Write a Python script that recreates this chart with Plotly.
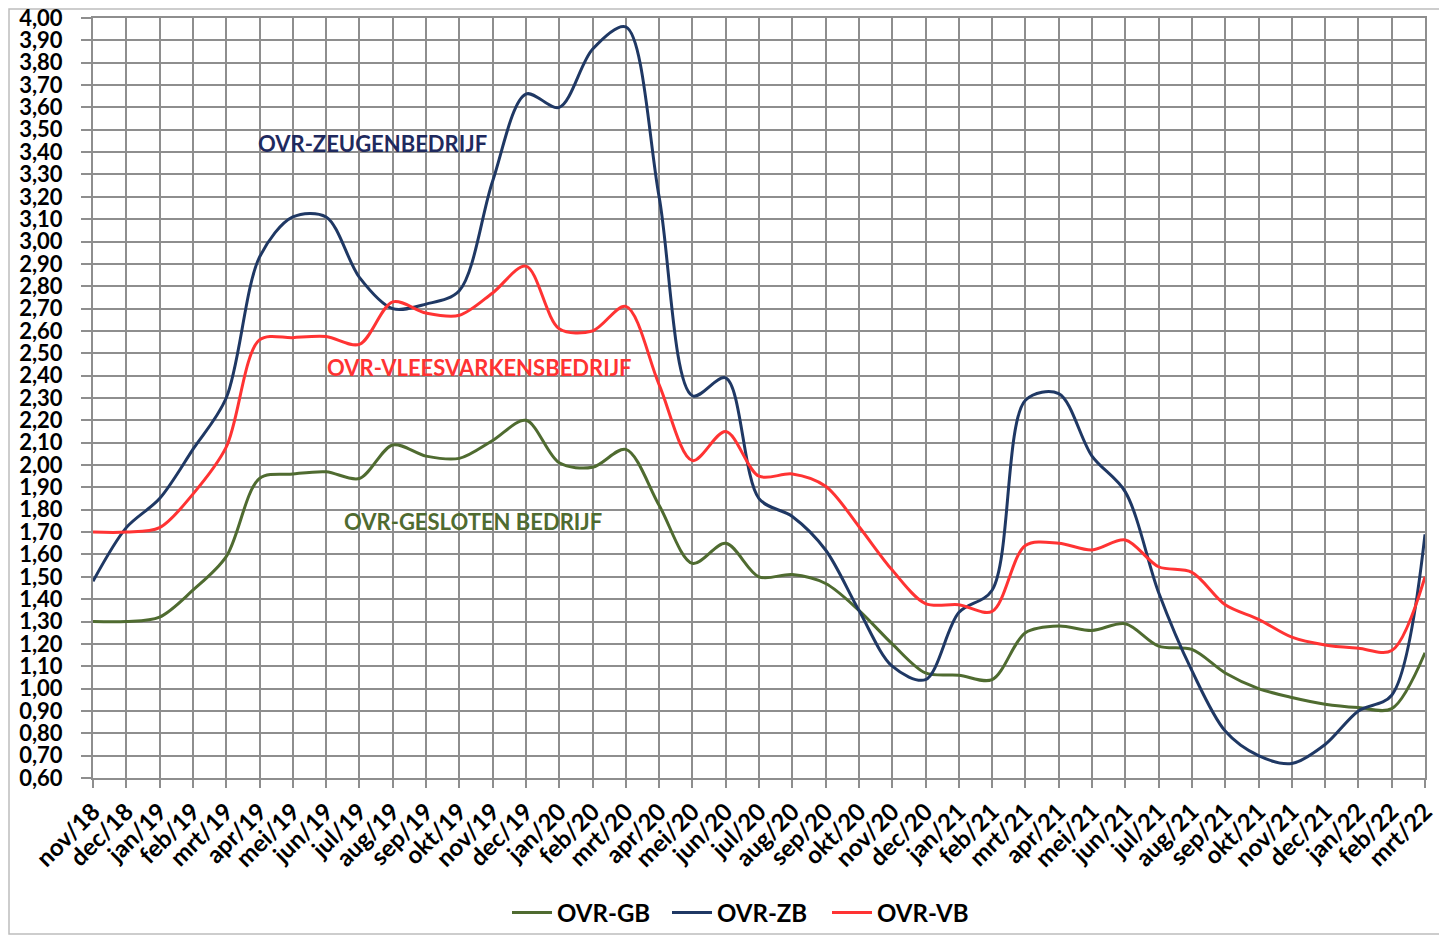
import plotly.graph_objects as go

months = ["nov/18", "dec/18", "jan/19", "feb/19", "mrt/19", "apr/19", "mei/19", "jun/19",
          "jul/19", "aug/19", "sep/19", "okt/19", "nov/19", "dec/19", "jan/20", "feb/20",
          "mrt/20", "apr/20", "mei/20", "jun/20", "jul/20", "aug/20", "sep/20", "okt/20",
          "nov/20", "dec/20", "jan/21", "feb/21", "mrt/21", "apr/21", "mei/21", "jun/21",
          "jul/21", "aug/21", "sep/21", "okt/21", "nov/21", "dec/21", "jan/22", "feb/22",
          "mrt/22"]

ovr_gb = [1.30, 1.30, 1.32, 1.44, 1.59, 1.94, 1.96, 1.97, 1.94, 2.09, 2.04, 2.03, 2.11, 2.20,
          2.01, 1.99, 2.07, 1.82, 1.56, 1.65, 1.50, 1.51, 1.47, 1.35, 1.20, 1.07, 1.06, 1.04,
          1.25, 1.28, 1.26, 1.29, 1.19, 1.175, 1.07, 1.00, 0.96, 0.93, 0.915, 0.91, 1.16]

ovr_zb = [1.48, 1.72, 1.85, 2.07, 2.30, 2.93, 3.11, 3.11, 2.84, 2.70, 2.72, 2.78, 3.27, 3.66,
          3.60, 3.86, 3.96, 3.20, 2.31, 2.39, 1.85, 1.77, 1.62, 1.35, 1.10, 1.04, 1.34, 1.44,
          2.29, 2.32, 2.04, 1.88, 1.43, 1.08, 0.81, 0.70, 0.665, 0.75, 0.90, 0.97, 1.69]

ovr_vb = [1.70, 1.70, 1.72, 1.87, 2.08, 2.56, 2.57, 2.575, 2.54, 2.73, 2.68, 2.67, 2.77, 2.89,
          2.61, 2.60, 2.71, 2.36, 2.02, 2.15, 1.95, 1.96, 1.905, 1.725, 1.53, 1.38, 1.375, 1.345,
          1.64, 1.65, 1.62, 1.665, 1.545, 1.52, 1.375, 1.31, 1.23, 1.195, 1.18, 1.17, 1.50]

y_tick_values = [0.60, 0.70, 0.80, 0.90, 1.00, 1.10, 1.20, 1.30, 1.40, 1.50, 1.60, 1.70,
                 1.80, 1.90, 2.00, 2.10, 2.20, 2.30, 2.40, 2.50, 2.60, 2.70, 2.80, 2.90,
                 3.00, 3.10, 3.20, 3.30, 3.40, 3.50, 3.60, 3.70, 3.80, 3.90, 4.00]
y_tick_labels = [("%.2f" % v).replace(".", ",") for v in y_tick_values]

series_names = ["OVR-GB", "OVR-ZB", "OVR-VB"]
series_colors = ["#4F6B30", "#1F3864", "#FF3333"]

labels = ["OVR-ZEUGENBEDRIJF", "OVR-VLEESVARKENSBEDRIJF", "OVR-GESLOTEN BEDRIJF"]
label_colors = ["#1F2A5E", "#FF3333", "#4F6B30"]

FONT = "Lato, Calibri, Carlito, sans-serif"
GRID = "#8E8E8E"

fig = go.Figure()
for name, vals, col in zip(series_names, [ovr_gb, ovr_zb, ovr_vb], series_colors):
    fig.add_trace(go.Scatter(
        x=months, y=vals, mode="lines", name=name,
        line=dict(color=col, width=3, shape="spline", smoothing=0.9),
    ))

# page body has an 8px offset; layout is specified in screen pixels and shifted
OFF = 8
W, H = 1447, 936
L, T = 93 - OFF, 18 - OFF
pw, ph = 1332, 760
R = W - L - pw
B = H - T - ph

def px_x(x):
    return (x - OFF - L) / pw

def px_y(y):
    return (H - B - (y - OFF)) / ph

ann_pos = [(372, 143), (479, 367), (473, 521)]
annotations = []
for txt, col, (ax, ay) in zip(labels, label_colors, ann_pos):
    annotations.append(dict(
        text=txt, x=px_x(ax), y=px_y(ay), xref="paper", yref="paper",
        xanchor="center", yanchor="middle", showarrow=False,
        font=dict(family=FONT, size=22, color=col, weight="bold"),
    ))

fig.update_layout(
    width=W, height=H,
    margin=dict(l=L, r=R, t=T, b=B, pad=0, autoexpand=False),
    paper_bgcolor="white", plot_bgcolor="white",
    font=dict(family=FONT, color="black"),
    showlegend=True,
    legend=dict(
        orientation="h", x=px_x(747), xanchor="center", y=px_y(913), yanchor="middle",
        font=dict(family=FONT, size=24, color="black", weight="bold"),
        itemwidth=40, entrywidth=105, entrywidthmode="pixels",
        tracegroupgap=0, bgcolor="rgba(0,0,0,0)",
    ),
    annotations=annotations,
    shapes=[dict(
        type="rect", xref="paper", yref="paper",
        x0=px_x(9), x1=px_x(1442), y0=px_y(934), y1=px_y(9),
        line=dict(color="#BDBDBD", width=1.5), fillcolor="rgba(0,0,0,0)", layer="below",
    )],
)

fig.update_xaxes(
    type="category", range=[0, len(months) - 1], automargin=False,
    showgrid=True, gridcolor=GRID, gridwidth=2,
    showline=True, linecolor=GRID, linewidth=2, mirror=True,
    ticks="outside", ticklen=8, tickwidth=2, tickcolor=GRID,
    tickangle=-45,
    tickfont=dict(family=FONT, size=24, color="black", weight="bold"),
    zeroline=False,
)
fig.update_yaxes(
    range=[0.5999, 4.0001], tickmode="array", tickvals=y_tick_values, ticktext=y_tick_labels,
    automargin=False, ticklabeloverflow="allow",
    showgrid=True, gridcolor=GRID, gridwidth=2,
    showline=True, linecolor=GRID, linewidth=2, mirror=True,
    ticks="outside", ticklen=10, tickwidth=2, tickcolor=GRID,
    ticklabelstandoff=14,
    tickfont=dict(family=FONT, size=22, color="black", weight="bold"),
    zeroline=False,
)

fig.write_html("out.html")
